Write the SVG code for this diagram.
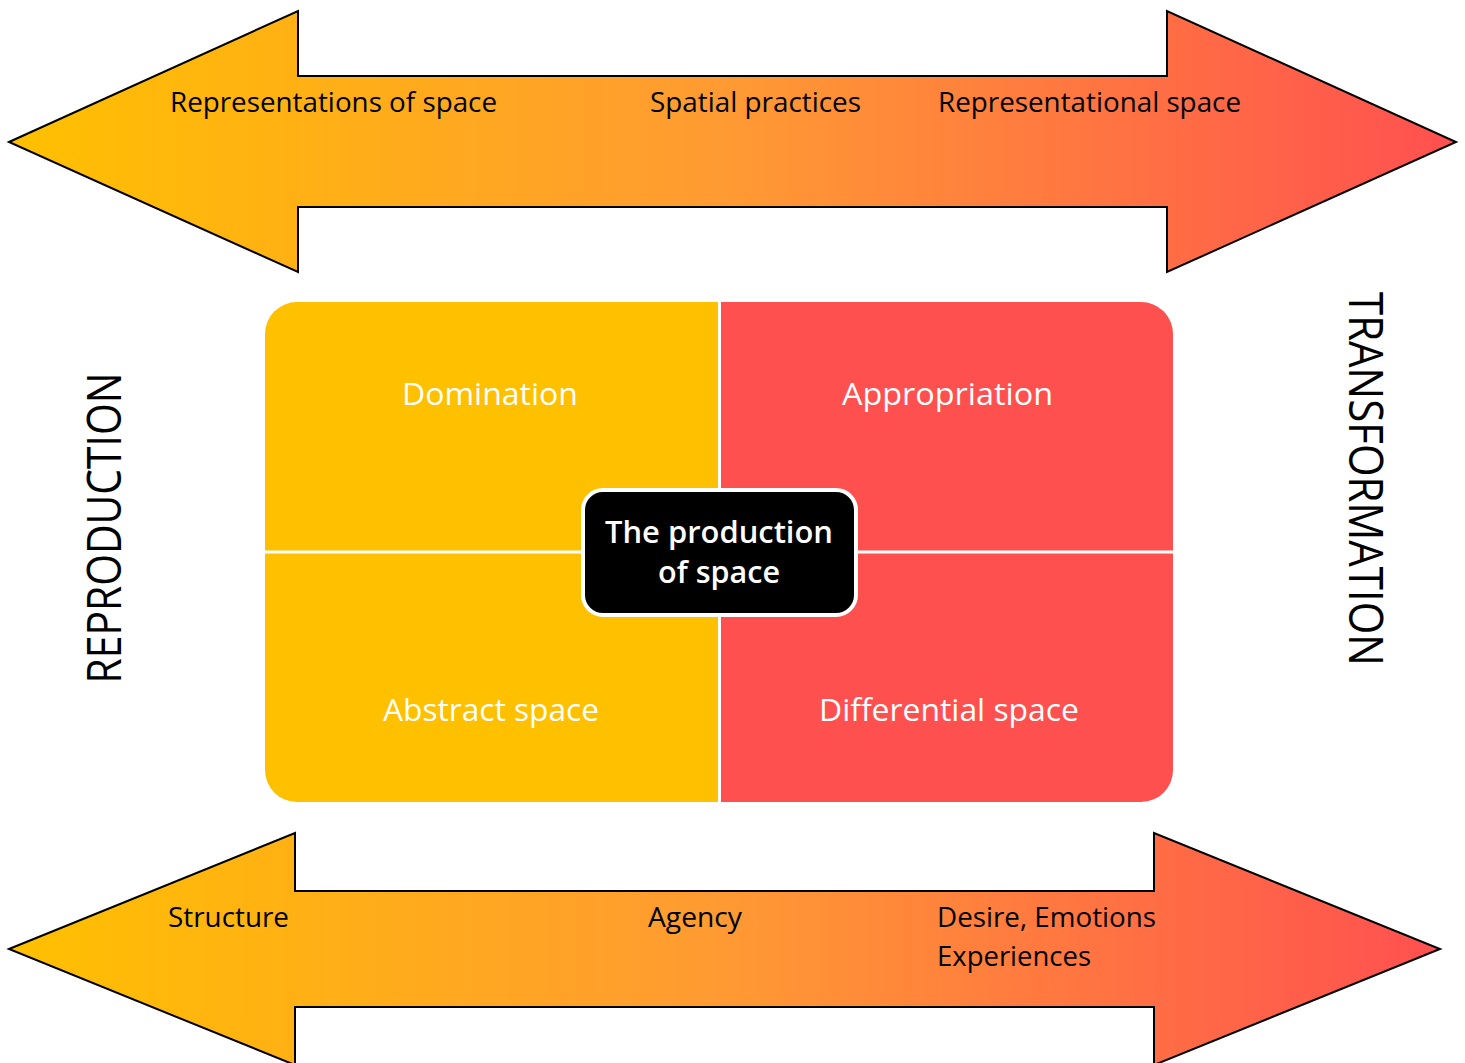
<svg xmlns="http://www.w3.org/2000/svg" width="1465" height="1063" viewBox="0 0 1465 1063">
  <defs>
    <linearGradient id="warm" x1="0" y1="0" x2="1" y2="0">
      <stop offset="0" stop-color="#FFC000"/>
      <stop offset="0.5" stop-color="#FF9A33"/>
      <stop offset="1" stop-color="#FF5050"/>
    </linearGradient>
    <clipPath id="panelClip">
      <rect x="265" y="302" width="908" height="500" rx="32" ry="32"/>
    </clipPath>
    <style>
      .arrow { fill: url(#warm); stroke: #000; stroke-width: 2; stroke-linejoin: miter; }
      .lbl { font-family: "Open Sans", "Noto Sans", "DejaVu Sans", sans-serif; font-size: 27px; fill: #000; }
      .quad { font-family: "Open Sans", "Noto Sans", "DejaVu Sans", sans-serif; font-size: 31px; fill: #fff; text-anchor: middle; }
      .core { font-family: "Open Sans", "Noto Sans", "DejaVu Sans", sans-serif; font-size: 31px; font-weight: 600; fill: #fff; text-anchor: middle; }
      .side { font-family: "Open Sans", "Noto Sans", "DejaVu Sans", sans-serif; font-size: 47px; fill: #000; text-anchor: middle; }
    </style>
  </defs>

  <!-- double-headed arrows -->
  <g id="connectors">
    <g id="arrow-top">
      <polygon class="arrow" points="9,142 298,11 298,76 1167,76 1167,11 1456,142 1167,272 1167,207 298,207 298,272"/>
      <text class="lbl" x="170" y="112" textLength="327" lengthAdjust="spacingAndGlyphs">Representations of space</text>
      <text class="lbl" x="650" y="112" textLength="211" lengthAdjust="spacingAndGlyphs">Spatial practices</text>
      <text class="lbl" x="938" y="112" textLength="303" lengthAdjust="spacingAndGlyphs">Representational space</text>
    </g>
    <g id="arrow-bottom">
      <polygon class="arrow" points="9,949 295,833 295,891 1154,891 1154,833 1440,949 1154,1065 1154,1007 295,1007 295,1065"/>
      <text class="lbl" x="168" y="927" textLength="121" lengthAdjust="spacingAndGlyphs">Structure</text>
      <text class="lbl" x="648" y="927" textLength="94" lengthAdjust="spacingAndGlyphs">Agency</text>
      <text class="lbl" x="937" y="927" textLength="219" lengthAdjust="spacingAndGlyphs">Desire, Emotions</text>
      <text class="lbl" x="937" y="966" textLength="154" lengthAdjust="spacingAndGlyphs">Experiences</text>
    </g>
  </g>

  <!-- four-quadrant panel -->
  <g id="panel">
    <g clip-path="url(#panelClip)">
      <rect x="265" y="302" width="455" height="500" fill="#FFC000"/>
      <rect x="720" y="302" width="453" height="500" fill="#FF5050"/>
      <rect x="718" y="302" width="3" height="500" fill="#fff"/>
      <rect x="265" y="550.5" width="908" height="3" fill="#fff"/>
    </g>
  </g>
  <g id="q-domination"><text class="quad" x="490" y="405" textLength="176" lengthAdjust="spacingAndGlyphs">Domination</text></g>
  <g id="q-appropriation"><text class="quad" x="947.5" y="405" textLength="211" lengthAdjust="spacingAndGlyphs">Appropriation</text></g>
  <g id="q-abstract"><text class="quad" x="491" y="721" textLength="216" lengthAdjust="spacingAndGlyphs">Abstract space</text></g>
  <g id="q-differential"><text class="quad" x="949" y="721" textLength="260" lengthAdjust="spacingAndGlyphs">Differential space</text></g>

  <g id="core">
    <rect x="583" y="490" width="273" height="125" rx="20" ry="20" fill="#000" stroke="#fff" stroke-width="4"/>
    <text class="core" x="719" y="543" textLength="228" lengthAdjust="spacingAndGlyphs">The production</text>
    <text class="core" x="719" y="583" textLength="122" lengthAdjust="spacingAndGlyphs">of space</text>
  </g>

  <!-- axis labels -->
  <g id="side-reproduction">
    <text class="side" transform="translate(121,528) rotate(-90)" x="0" y="0" textLength="311" lengthAdjust="spacingAndGlyphs">REPRODUCTION</text>
  </g>
  <g id="side-transformation">
    <text class="side" transform="translate(1349,479) rotate(90)" x="0" y="0" textLength="374" lengthAdjust="spacingAndGlyphs">TRANSFORMATION</text>
  </g>
</svg>
